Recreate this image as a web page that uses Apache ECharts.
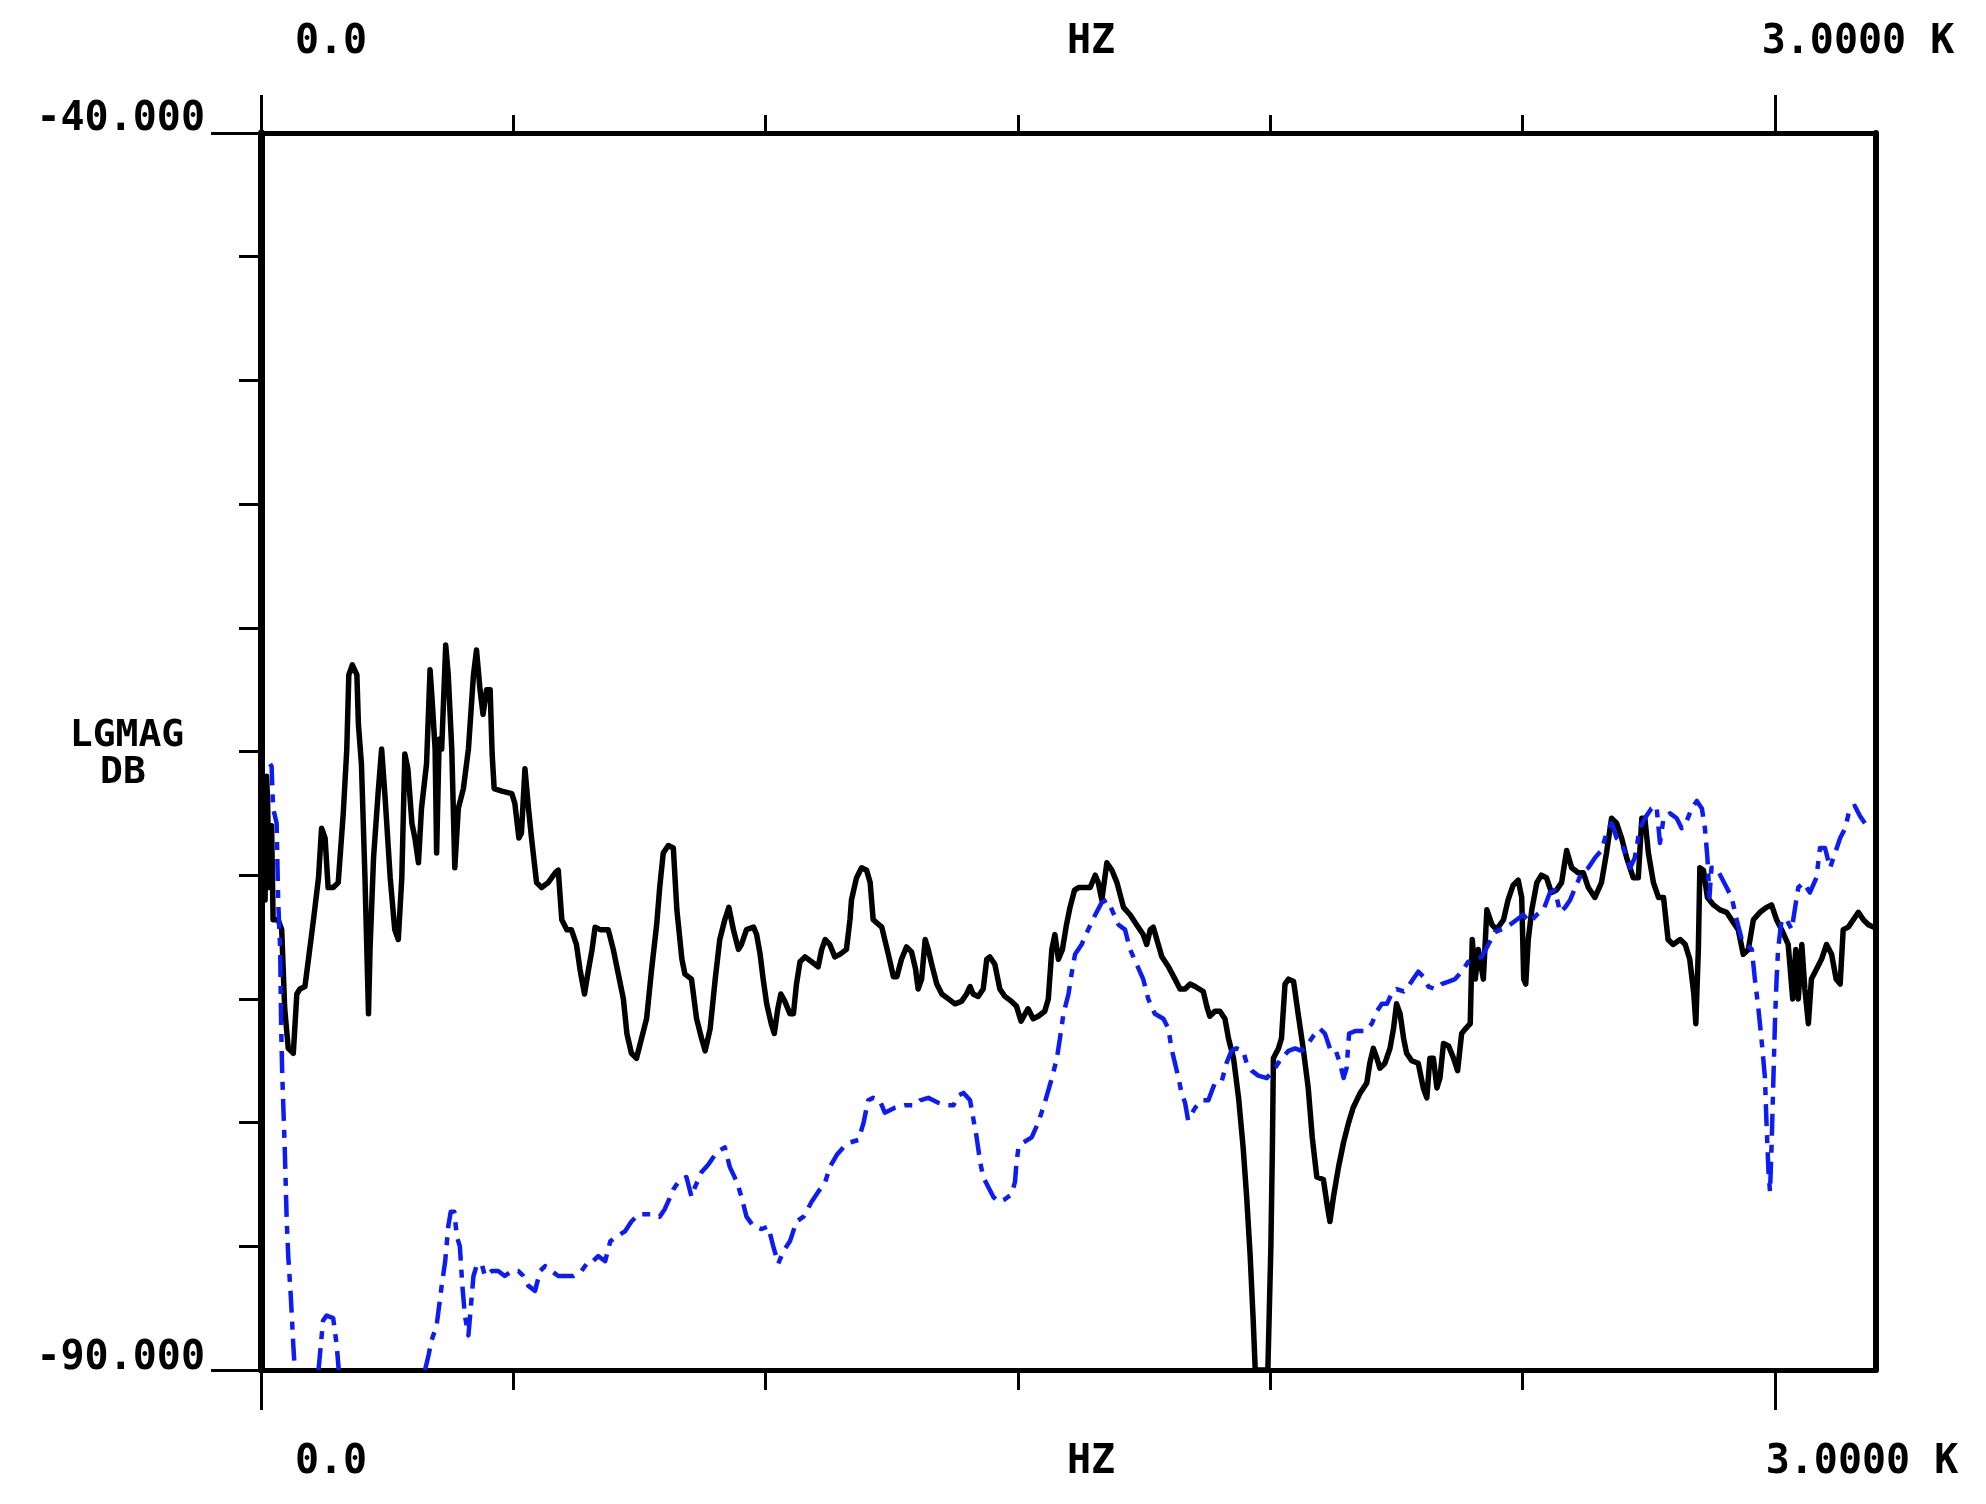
<!DOCTYPE html>
<html>
<head>
<meta charset="utf-8">
<script src="https://cdn.jsdelivr.net/npm/echarts@6/dist/echarts.min.js"></script>
<style>
html,body{margin:0;padding:0;background:#fff;}
#chart{width:1986px;height:1504px;}
</style>
</head>
<body>
<div id="chart"></div>
<script>
// ---- Data (frequency in Hz, magnitude in dB) ----
const blackHz = [0,2,5,8,11,13,16,18,21,24,34,41,47,54,64,71,77,87,94,104,114,120,127,133,143,153,163,170,174,181,190,193,199,206,213,216,223,232,239,246,256,265,272,279,285,291,299,305,312,318,328,335,339,345,348,353,358,366,371,378,384,391,401,411,421,427,434,440,447,454,458,462,477,497,503,511,516,523,530,536,546,556,569,583,589,596,606,615,625,632,641,649,656,662,672,688,698,708,718,725,734,744,754,764,774,784,790,797,807,817,824,834,840,853,863,873,880,890,900,909,919,927,936,946,952,962,976,982,989,995,1002,1011,1017,1024,1030,1038,1048,1055,1061,1068,1078,1091,1104,1111,1118,1127,1137,1147,1160,1167,1170,1180,1190,1200,1207,1213,1230,1243,1253,1260,1269,1279,1289,1297,1302,1309,1316,1322,1329,1339,1349,1362,1375,1388,1398,1405,1411,1421,1431,1438,1444,1454,1464,1474,1487,1497,1506,1514,1520,1530,1540,1553,1560,1567,1573,1580,1588,1596,1603,1612,1620,1643,1653,1659,1666,1676,1686,1696,1709,1722,1735,1748,1755,1762,1768,1775,1785,1798,1811,1821,1831,1841,1851,1867,1874,1880,1890,1900,1910,1917,1927,1937,1946,1953,1960,1966,1970,1995,2001,2004,2006,2016,2022,2029,2036,2046,2055,2065,2075,2083,2092,2105,2113,2118,2125,2135,2145,2155,2164,2178,2191,2197,2204,2211,2217,2227,2237,2244,2250,2257,2264,2270,2280,2293,2303,2310,2316,2323,2330,2336,2343,2353,2363,2371,2379,2387,2396,2400,2406,2412,2422,2429,2439,2448,2462,2471,2481,2491,2498,2502,2506,2511,2518,2528,2537,2547,2557,2567,2577,2587,2597,2610,2620,2630,2643,2656,2666,2676,2686,2696,2706,2719,2729,2736,2742,2749,2759,2769,2779,2788,2798,2812,2822,2831,2839,2843,2848,2851,2858,2866,2878,2891,2904,2917,2927,2937,2947,2957,2970,2983,2993,3003,3013,3026,3035,3041,3046,3053,3059,3066,3072,3082,3092,3102,3112,3121,3129,3135,3145,3155,3165,3175,3185,3195];
const blackDb = [-65.3,-65.5,-69.5,-71.0,-66.0,-66.9,-70.5,-70.1,-68.0,-71.8,-71.8,-72.2,-75.4,-77.0,-77.2,-74.8,-74.6,-74.5,-73.4,-71.8,-70.1,-68.1,-68.5,-70.5,-70.5,-70.3,-67.5,-64.9,-61.9,-61.5,-61.9,-63.9,-65.5,-70.1,-75.6,-73.0,-69.3,-66.7,-64.9,-66.9,-70.1,-72.2,-72.6,-70.1,-65.1,-65.7,-67.9,-68.5,-69.5,-67.3,-65.5,-61.7,-62.9,-64.9,-69.1,-64.5,-64.9,-60.7,-61.9,-64.9,-69.7,-67.3,-66.5,-64.9,-61.9,-60.9,-62.5,-63.5,-62.5,-62.5,-65.1,-66.5,-66.6,-66.7,-67.1,-68.5,-68.3,-65.7,-67.3,-68.5,-70.3,-70.5,-70.3,-69.9,-69.8,-71.8,-72.2,-72.2,-72.8,-73.8,-74.8,-73.8,-73.0,-72.1,-72.2,-72.2,-73.0,-74.0,-75.0,-76.4,-77.2,-77.4,-76.6,-75.8,-73.8,-72.0,-70.5,-69.1,-68.8,-68.9,-71.4,-73.4,-74.0,-74.2,-75.8,-76.6,-77.1,-76.2,-74.2,-72.6,-71.8,-71.3,-72.2,-73.0,-72.8,-72.2,-72.1,-72.4,-73.2,-74.2,-75.2,-76.0,-76.4,-75.4,-74.8,-75.1,-75.6,-75.6,-74.4,-73.5,-73.3,-73.5,-73.7,-73.0,-72.6,-72.8,-73.3,-73.2,-73.0,-71.8,-71.0,-70.1,-69.7,-69.8,-70.3,-71.8,-72.1,-73.2,-74.1,-74.1,-73.4,-72.9,-73.1,-73.8,-74.6,-74.2,-72.6,-73.0,-73.6,-74.4,-74.8,-75.0,-75.2,-75.1,-74.8,-74.5,-74.8,-74.9,-74.6,-73.4,-73.3,-73.6,-74.6,-74.9,-75.1,-75.3,-75.9,-75.6,-75.4,-75.8,-75.7,-75.5,-75.0,-73.0,-72.4,-73.4,-73.0,-72.0,-71.3,-70.6,-70.5,-70.5,-70.0,-70.3,-71.0,-69.5,-69.8,-70.3,-71.3,-71.6,-72.0,-72.4,-72.8,-72.2,-72.1,-72.6,-73.3,-73.7,-74.2,-74.6,-74.6,-74.4,-74.5,-74.7,-75.3,-75.7,-75.5,-75.5,-75.8,-76.6,-77.4,-79.0,-81.0,-83.0,-85.4,-88.0,-90.0,-90.0,-85.0,-81.0,-77.4,-77.0,-76.6,-74.4,-74.2,-74.3,-75.6,-77.0,-78.6,-80.6,-82.2,-82.3,-83.4,-84.0,-83.0,-81.8,-80.8,-80.0,-79.4,-78.8,-78.4,-77.6,-77.0,-77.4,-77.8,-77.6,-77.0,-76.2,-75.2,-75.6,-76.6,-77.2,-77.5,-77.6,-78.6,-79.0,-77.4,-77.4,-78.6,-78.2,-76.8,-76.9,-77.4,-77.9,-76.4,-76.2,-76.0,-72.6,-74.2,-73.0,-74.2,-71.4,-72.0,-72.2,-71.8,-71.0,-70.4,-70.2,-70.9,-74.2,-74.4,-72.6,-71.4,-70.3,-70.0,-70.1,-70.7,-70.6,-70.3,-69.0,-69.7,-69.9,-69.9,-70.5,-70.9,-70.3,-69.1,-67.7,-67.9,-68.5,-69.3,-70.1,-70.1,-67.7,-67.7,-69.1,-70.3,-70.9,-70.9,-72.6,-72.8,-72.6,-72.8,-73.4,-74.8,-76.0,-73.0,-69.7,-69.8,-70.9,-71.2,-71.4,-71.5,-71.9,-72.2,-73.2,-73.0,-71.8,-71.5,-71.3,-71.2,-71.8,-72.2,-72.8,-75.0,-73.0,-75.0,-72.8,-74.6,-76.0,-74.2,-73.8,-73.4,-72.8,-73.2,-74.2,-74.4,-72.2,-72.1,-71.8,-71.5,-71.8,-72.0,-72.1];

const blueHz = [18,21,24,31,34,38,40,42,47,51,54,59,64,67,90,114,123,130,143,150,154,240,325,332,338,348,358,365,371,376,383,388,394,399,404,411,416,421,427,437,444,457,470,483,497,510,520,530,543,553,563,576,589,602,619,635,649,658,668,682,692,705,721,734,748,764,777,790,800,811,817,830,843,853,860,873,886,903,919,929,943,952,962,976,992,1005,1015,1025,1035,1048,1061,1075,1091,1104,1118,1127,1141,1154,1167,1184,1194,1203,1213,1226,1236,1256,1276,1296,1306,1322,1332,1342,1359,1372,1382,1392,1405,1411,1418,1425,1431,1441,1451,1461,1474,1487,1494,1497,1501,1511,1527,1540,1553,1567,1577,1583,1590,1600,1606,1613,1626,1639,1653,1666,1676,1686,1699,1712,1722,1735,1748,1758,1771,1788,1798,1804,1811,1818,1824,1831,1837,1851,1864,1877,1890,1904,1913,1923,1933,1946,1953,1963,1976,1993,2009,2022,2036,2049,2062,2075,2085,2098,2108,2118,2128,2138,2145,2151,2156,2168,2188,2201,2211,2221,2231,2240,2250,2264,2273,2283,2293,2303,2313,2326,2339,2353,2366,2379,2392,2406,2419,2432,2445,2468,2488,2501,2514,2528,2541,2554,2564,2574,2584,2594,2604,2617,2630,2643,2656,2666,2676,2686,2696,2706,2713,2722,2732,2742,2755,2765,2772,2779,2792,2805,2815,2825,2835,2845,2855,2861,2866,2870,2874,2884,2894,2904,2914,2924,2934,2944,2954,2960,2967,2973,2980,2983,2987,2990,2993,2997,3000,3003,3006,3013,3023,3033,3039,3046,3056,3069,3082,3089,3099,3109,3119,3129,3139,3148,3158,3168,3178,3188];
const blueDb = [-65.5,-65.6,-67.3,-67.9,-71.0,-73.0,-76.2,-78.0,-81.0,-84.0,-85.4,-87.0,-89.0,-90.0,null,-90.0,-88.0,-87.8,-87.9,-89.0,-90.0,null,-90.0,-89.4,-88.8,-88.2,-86.6,-85.6,-84.2,-83.6,-83.6,-84.6,-85.0,-86.6,-87.8,-88.6,-87.4,-86.2,-85.8,-85.7,-86.2,-86.0,-86.0,-86.2,-86.0,-86.0,-86.2,-86.6,-86.8,-86.0,-85.8,-86.0,-86.2,-86.2,-86.2,-86.0,-85.6,-85.6,-85.4,-85.6,-84.8,-84.6,-84.4,-84.0,-83.7,-83.7,-83.7,-83.8,-83.5,-83.0,-82.7,-82.3,-82.2,-83.0,-82.6,-82.0,-81.7,-81.2,-81.0,-81.8,-82.4,-83.0,-83.8,-84.2,-84.3,-84.2,-85.0,-85.7,-85.2,-84.8,-84.0,-83.8,-83.2,-82.8,-82.4,-81.8,-81.3,-81.0,-80.8,-80.7,-80.0,-79.1,-79.0,-79.1,-79.6,-79.4,-79.3,-79.3,-79.1,-79.0,-79.1,-79.2,-79.3,-79.3,-78.9,-78.8,-79.1,-79.8,-80.6,-81.6,-82.2,-82.6,-83.0,-83.2,-83.1,-82.9,-82.4,-81.6,-81.0,-80.8,-80.6,-80.0,-79.2,-78.2,-77.4,-76.6,-75.6,-74.8,-74.0,-73.2,-72.8,-72.2,-71.6,-71.1,-71.0,-71.4,-72.0,-72.2,-73.0,-73.6,-74.2,-75.0,-75.6,-75.8,-76.2,-77.0,-77.6,-78.2,-78.8,-79.2,-79.9,-79.4,-79.1,-79.1,-78.4,-78.3,-77.6,-77.1,-77.0,-77.1,-77.6,-77.9,-78.1,-78.2,-77.8,-77.4,-77.1,-77.0,-77.1,-76.8,-76.5,-76.2,-76.4,-77.0,-77.0,-77.6,-78.2,-77.8,-76.4,-76.3,-76.3,-76.0,-75.5,-75.2,-75.2,-74.8,-74.6,-74.7,-74.5,-74.2,-73.9,-74.1,-74.5,-74.6,-74.4,-74.3,-74.2,-73.9,-73.5,-73.4,-73.3,-72.8,-72.3,-72.1,-71.8,-71.6,-71.9,-71.6,-71.4,-70.7,-70.6,-71.5,-71.3,-71.0,-70.5,-69.9,-69.7,-69.3,-69.0,-68.3,-67.9,-68.5,-68.7,-69.3,-69.7,-69.3,-68.1,-67.7,-67.3,-67.2,-68.7,-67.7,-67.5,-67.7,-68.1,-67.8,-67.3,-67.0,-67.3,-68.1,-69.3,-70.9,-69.7,-69.7,-70.1,-70.5,-70.9,-71.8,-72.6,-72.8,-73.0,-74.2,-75.4,-76.6,-78.2,-80.0,-82.0,-82.8,-81.0,-78.0,-75.8,-74.2,-73.0,-71.8,-71.8,-72.2,-71.4,-70.5,-70.3,-70.7,-70.1,-68.9,-68.9,-69.7,-69.1,-68.5,-68.1,-67.3,-67.2,-67.6,-67.9,-68.1];

// ---- Axis ticks and labels ----
const xRegularTicks = [500, 1000, 1500, 2000, 2500];
const xLongTicks = [0, 3000];
const yRegularTicks = [-85, -80, -75, -70, -65, -60, -55, -50, -45];
const yLongTicks = [-90, -40];
const yEndLabels = ['-40.000', '-90.000'];
const xEndLabels = ['0.0', 'HZ', '3.0000 K'];
const yTitle = ['LGMAG', 'DB'];

const X_MIN = 0, X_MAX = 3200, Y_MIN = -90, Y_MAX = -40;

const toData = (xs, ys) => xs.map((x, i) => [x, ys[i] === null ? '-' : ys[i]]);

const BLK = '#000000';
const BLUE = '#0b1cf4';
const FONT = '"DejaVu Sans Mono", "Liberation Mono", monospace';

function xAx(position, ticks, len) {
  return {
    type: 'value', min: X_MIN, max: X_MAX, interval: 500, position: position,
    axisLine: { show: false, onZero: false },
    axisTick: { show: true, length: len, customValues: ticks, lineStyle: { color: BLK, width: 3 } },
    axisLabel: { show: false }, splitLine: { show: false }
  };
}
function yAx(position, ticks, len) {
  return {
    type: 'value', min: Y_MIN, max: Y_MAX, interval: 5, position: position,
    axisLine: { show: false, onZero: false },
    axisTick: { show: true, length: len, customValues: ticks, lineStyle: { color: BLK, width: 3 } },
    axisLabel: { show: false }, splitLine: { show: false }
  };
}

const frameX = (position) => ({
  type: 'value', min: X_MIN, max: X_MAX, interval: 500, position: position,
  axisLine: { show: true, onZero: false, lineStyle: { color: BLK, width: 5 } },
  axisTick: { show: false }, axisLabel: { show: false }, splitLine: { show: false }
});
const frameY = (position, w) => ({
  type: 'value', min: Y_MIN, max: Y_MAX, interval: 5, position: position,
  axisLine: { show: true, onZero: false, lineStyle: { color: BLK, width: w } },
  axisTick: { show: false }, axisLabel: { show: false }, splitLine: { show: false }
});

const chart = echarts.init(document.getElementById('chart'), null, { renderer: 'canvas' });

const textEl = (txt, x, y, align, weight, size) => ({
  type: 'text', x: x, y: y, z: 10,
  style: { text: txt, fill: BLK, font: weight + ' ' + size + 'px ' + FONT, textAlign: align, textVerticalAlign: 'middle' }
});

chart.setOption({
  backgroundColor: '#ffffff',
  animation: false,
  grid: { left: 261, top: 133, right: 110, bottom: 134, containLabel: false },
  xAxis: [
    frameX('bottom'),
    xAx('bottom', xRegularTicks, 20),
    xAx('bottom', xLongTicks, 40),
    frameX('top'),
    xAx('top', xRegularTicks, 18),
    xAx('top', xLongTicks, 38)
  ],
  yAxis: [
    frameY('left', 7),
    yAx('left', yRegularTicks, 22),
    yAx('left', yLongTicks, 50),
    frameY('right', 6)
  ],
  series: [
    {
      type: 'line', xAxisIndex: 0, yAxisIndex: 0, data: toData(blackHz, blackDb),
      showSymbol: false, symbol: 'none', clip: true, connectNulls: false, z: 3,
      lineStyle: { color: BLK, width: 5.5, join: 'round', cap: 'round' }
    },
    {
      type: 'line', xAxisIndex: 0, yAxisIndex: 0, data: toData(blueHz, blueDb),
      showSymbol: false, symbol: 'none', clip: true, connectNulls: false, z: 4,
      lineStyle: { color: BLUE, width: 4.5, type: [22, 9, 8, 9], join: 'round' }
    }
  ],
  graphic: [
    textEl(yEndLabels[0], 205, 120, 'right', 'bold', 40),
    textEl(yEndLabels[1], 205, 1359, 'right', 'bold', 40),
    textEl(xEndLabels[0], 331, 43, 'center', 'bold', 40),
    textEl(xEndLabels[1], 1091, 43, 'center', 'bold', 40),
    textEl(xEndLabels[2], 1858, 43, 'center', 'bold', 40),
    textEl(xEndLabels[0], 331, 1463, 'center', 'bold', 40),
    textEl(xEndLabels[1], 1091, 1463, 'center', 'bold', 40),
    textEl(xEndLabels[2], 1862, 1463, 'center', 'bold', 40),
    textEl(yTitle[0], 127, 736, 'center', 'bold', 38),
    textEl(yTitle[1], 123, 773, 'center', 'bold', 38)
  ]
});
</script>
</body>
</html>
